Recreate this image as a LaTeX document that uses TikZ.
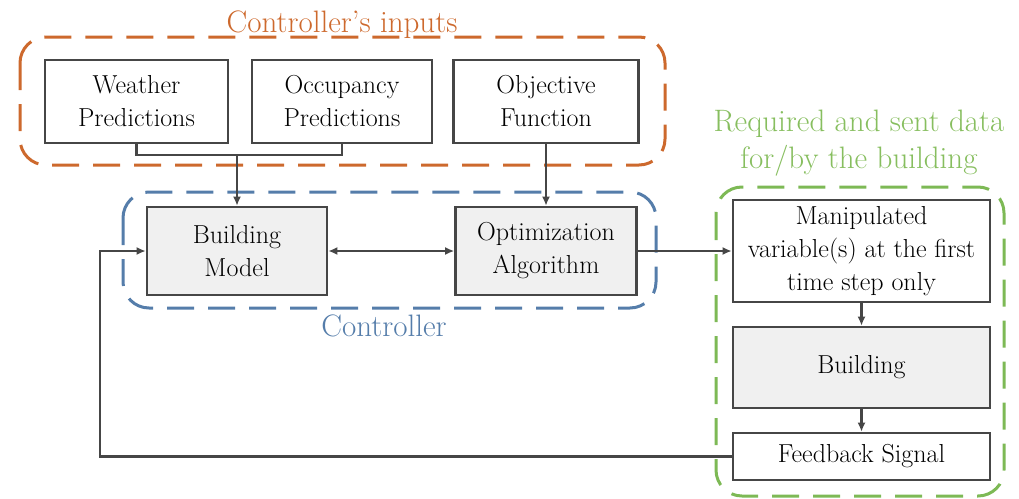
\documentclass[tikz,border=0pt]{standalone}
\usetikzlibrary{arrows.meta}
\definecolor{inorange}{RGB}{205,105,45}
\definecolor{ctrlblue}{RGB}{85,125,170}
\definecolor{bldgreen}{RGB}{125,185,85}
\definecolor{bldgreentext}{RGB}{135,190,95}
\definecolor{edge}{RGB}{70,70,70}
\definecolor{boxfill}{RGB}{240,240,240}
\tikzset{
  box/.style={draw=edge, line width=2.6pt, rectangle, inner sep=0pt, align=center,
    font=\fontsize{26}{33}\selectfont},
  graybox/.style={box, fill=boxfill},
  group/.style={line width=3pt, dash pattern=on 27pt off 14pt, rounded corners=26pt},
  wire/.style={draw=edge, line width=2.4pt},
  arrowwire/.style={wire, -{Latex[length=9pt,width=8pt]}},
  title/.style={font=\fontsize{31}{37}\selectfont, align=center, inner sep=0pt}
}
\begin{document}
\begin{tikzpicture}[x=1pt, y=-1pt]
\useasboundingbox (0,0) rectangle (1019,498);

% group frames
\draw[group, draw=inorange] (20,37) rectangle (665,165);
\draw[group, draw=ctrlblue] (123,192) rectangle (656,308);
\draw[group, draw=bldgreen] (716,187) rectangle (1004,496);

% group labels
\node[title, text=inorange, anchor=base] (lblin) at (342,32) {Controller’s inputs};
\node[title, text=ctrlblue, anchor=base] (lblctrl) at (384,336) {Controller};
\node[title, text=bldgreentext] (lblbld) at (859,143) {Required and sent data\\for/by the building};

% controller inputs
\node[box, minimum width=183pt, minimum height=83pt] (weather) at (136.5,101.5) {Weather\\Predictions};
\node[box, minimum width=180pt, minimum height=83pt] (occupancy) at (342,101.5) {Occupancy\\Predictions};
\node[box, minimum width=185pt, minimum height=83pt] (objective) at (546,101.5) {Objective\\Function};

% controller
\node[graybox, minimum width=180pt, minimum height=88pt] (bmodel) at (237,251) {Building\\Model};
\node[graybox, minimum width=181pt, minimum height=88pt] (optim) at (546,251) {Optimization\\Algorithm};

% building side
\node[box, minimum width=257pt, minimum height=102pt] (manip) at (861.5,251) {Manipulated\\variable(s) at the first\\time step only};
\node[graybox, minimum width=257pt, minimum height=81pt] (building) at (861.5,367.5) {Building};
\node[box, minimum width=257pt, minimum height=47pt] (feedback) at (861.5,456.5) {Feedback Signal};

% connectors
\coordinate (join) at (237,155);
\draw[wire] (weather.south) |- (join) -| (occupancy.south);
\draw[arrowwire] (join) -- (bmodel.north);
\draw[arrowwire] (objective.south) -- (optim.north);
\draw[wire, {Latex[length=9pt,width=8pt]}-{Latex[length=9pt,width=8pt]}] (bmodel.east) -- (optim.west);
\draw[arrowwire] (optim.east) -- (manip.west);
\draw[arrowwire] (manip.south) -- (building.north);
\draw[arrowwire] (building.south) -- (feedback.north);
\coordinate (loop) at (100,456.5);
\draw[arrowwire] (feedback.west) -- (loop) |- (bmodel.west);
\end{tikzpicture}
\end{document}
